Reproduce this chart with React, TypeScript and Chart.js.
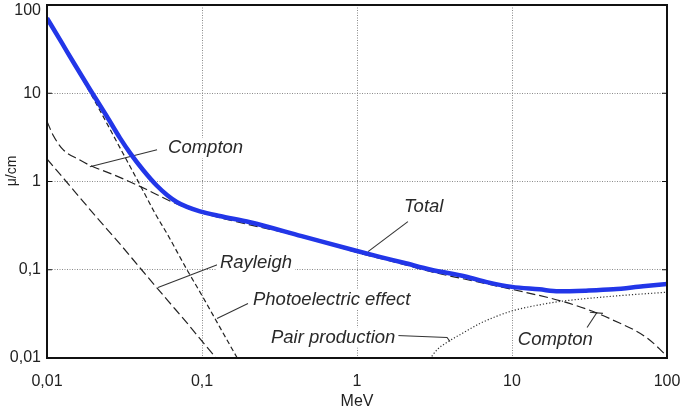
import React, { useEffect, useRef } from 'react';
import { Chart, registerables } from 'chart.js';

Chart.register(...registerables);

// ---- axis ticks and titles ----
const tickValues = [0.01, 0.1, 1, 10, 100];
const xTickLabels = ['0,01', '0,1', '1', '10', '100'];
const yTickLabels = ['0,01', '0,1', '1', '10', '100'];
const xTitle = 'MeV';
const yTitle = 'μ/cm';

// ---- series (energy in MeV, attenuation μ in 1/cm) ----
const totalEnergy = [0.01, 0.0125, 0.015, 0.0189, 0.0243, 0.0296, 0.0343, 0.0418, 0.051, 0.06, 0.0687, 0.08, 0.097, 0.13, 0.204, 0.44, 1, 1.4, 2, 3, 5, 7, 10, 15, 20, 30, 45, 70, 100];
const totalMu = [71, 36.9, 21.6, 11.1, 5.48, 3.1, 2.11, 1.34, 0.9, 0.694, 0.586, 0.515, 0.459, 0.406, 0.345, 0.24, 0.163, 0.14, 0.12, 0.1, 0.084, 0.072, 0.064, 0.06, 0.057, 0.058, 0.06, 0.065, 0.069];

const comptonEnergy = [0.01, 0.011, 0.0127, 0.0163, 0.019, 0.027, 0.044, 0.065, 0.1, 0.2, 0.5, 1, 2, 3, 5, 10, 21, 30, 44, 74, 100];
const comptonMu = [4.8, 3.3, 2.3, 1.75, 1.52, 1.19, 0.81, 0.58, 0.44, 0.325, 0.225, 0.157, 0.115, 0.095, 0.078, 0.06, 0.044, 0.036, 0.0273, 0.017, 0.0105];

const photoEnergy = [0.01, 0.015, 0.02, 0.03, 0.04, 0.05, 0.06, 0.08, 0.1, 0.13, 0.17, 0.2];
const photoMu = [70, 21, 8.6, 2.3, 0.9, 0.43, 0.25, 0.1, 0.051, 0.0225, 0.0098, 0.006];

const rayleighEnergy = [0.01, 0.015, 0.02, 0.03, 0.04, 0.06, 0.08, 0.1, 0.13];
const rayleighMu = [1.8, 0.78, 0.43, 0.19, 0.104, 0.045, 0.025, 0.0155, 0.009];

const pairEnergy = [2.95, 3.3, 3.8, 4.85, 6.2, 8, 10.2, 15, 21, 44, 100];
const pairMu = [0.0098, 0.0125, 0.015, 0.0193, 0.0246, 0.0298, 0.0345, 0.04, 0.044, 0.05, 0.0557];

// ---- curve annotations (anchored in data coordinates) ----
const labelTexts = ['Compton', 'Total', 'Rayleigh', 'Photoelectric effect', 'Pair production', 'Compton'];
const labelEnergy = [0.0604, 2.01, 0.1306, 0.2133, 0.2786, 10.9];
const labelMu = [2.39, 0.519, 0.1206, 0.046, 0.0171, 0.01623];

const leaderEnergy = [
  [0.0513, 0.0189],
  [2.13, 1.178],
  [0.1268, 0.052],
  [0.198, 0.125],
  [1.81, 3.81, 3.98],
  [30.5, 35.3],
  [31.8, 38.6],
];
const leaderMu = [
  [2.29, 1.47],
  [0.351, 0.1607],
  [0.1146, 0.063],
  [0.0415, 0.028],
  [0.018, 0.0171, 0.0154],
  [0.0222, 0.0328],
  [0.033, 0.032],
];

const toPoints = (xs: number[], ys: number[]) => xs.map((x, i) => ({ x, y: ys[i] }));

const FONT = '"Liberation Sans", Arial, Helvetica, sans-serif';

const decorPlugin = {
  id: 'decor',
  beforeDatasetsDraw(chart: any) {
    const { ctx, scales } = chart;
    const xs = scales.x;
    const ys = scales.y;
    ctx.save();
    // leader lines
    ctx.strokeStyle = '#333';
    ctx.lineWidth = 1.1;
    ctx.setLineDash([]);
    leaderEnergy.forEach((es, i) => {
      ctx.beginPath();
      es.forEach((e, j) => {
        const px = xs.getPixelForValue(e);
        const py = ys.getPixelForValue(leaderMu[i][j]);
        if (j === 0) ctx.moveTo(px, py);
        else ctx.lineTo(px, py);
      });
      ctx.stroke();
    });
    // labels with white backgrounds
    ctx.font = `italic 18.5px ${FONT}`;
    ctx.textBaseline = 'middle';
    ctx.textAlign = 'left';
    labelTexts.forEach((t, i) => {
      const px = xs.getPixelForValue(labelEnergy[i]);
      const py = ys.getPixelForValue(labelMu[i]);
      const w = ctx.measureText(t).width;
      ctx.fillStyle = '#ffffff';
      ctx.fillRect(px - 3, py - 10, w + 6, 20);
      ctx.fillStyle = '#2a2a2a';
      ctx.fillText(t, px, py);
    });
    ctx.restore();
  },
  afterDatasetsDraw(chart: any) {
    const { ctx, chartArea, scales } = chart;
    ctx.save();
    ctx.strokeStyle = '#111';
    ctx.lineWidth = 2;
    ctx.setLineDash([]);
    ctx.strokeRect(chartArea.left, chartArea.top, chartArea.right - chartArea.left, chartArea.bottom - chartArea.top);
    // short inner tick marks on the left and right frame at decades
    ctx.lineWidth = 1;
    tickValues.forEach((v) => {
      const py = scales.y.getPixelForValue(v);
      ctx.beginPath();
      ctx.moveTo(chartArea.left, py);
      ctx.lineTo(chartArea.left + 5, py);
      ctx.moveTo(chartArea.right, py);
      ctx.lineTo(chartArea.right - 5, py);
      ctx.stroke();
    });
    // y axis title
    ctx.translate(chartArea.left - 35, chartArea.top + 166);
    ctx.rotate(-Math.PI / 2);
    ctx.font = `14px ${FONT}`;
    ctx.fillStyle = '#222';
    ctx.textAlign = 'center';
    ctx.textBaseline = 'middle';
    ctx.fillText(yTitle, 0, 0);
    ctx.restore();
  },
};

export default function App() {
  const ref = useRef<HTMLCanvasElement | null>(null);

  useEffect(() => {
    if (!ref.current) return;
    const last = tickValues.length - 1;
    const gridColor = (c: any) =>
      c.tick && (c.tick.value === tickValues[0] || c.tick.value === tickValues[last])
        ? 'rgba(0,0,0,0)'
        : '#8a8a8a';
    const chart = new Chart(ref.current, {
      type: 'scatter',
      data: {
        datasets: [
          {
            label: 'Total',
            data: toPoints(totalEnergy, totalMu),
            borderColor: '#2236e8',
            borderWidth: 4.5,
            showLine: true,
            pointRadius: 0,
            cubicInterpolationMode: 'monotone',
            order: 0,
          },
          {
            label: 'Compton',
            data: toPoints(comptonEnergy, comptonMu),
            borderColor: '#222',
            borderWidth: 1.2,
            borderDash: [9, 4],
            showLine: true,
            pointRadius: 0,
            cubicInterpolationMode: 'monotone',
            order: 1,
          },
          {
            label: 'Photoelectric effect',
            data: toPoints(photoEnergy, photoMu),
            borderColor: '#222',
            borderWidth: 1.2,
            borderDash: [5, 3],
            showLine: true,
            pointRadius: 0,
            cubicInterpolationMode: 'monotone',
            order: 2,
          },
          {
            label: 'Rayleigh',
            data: toPoints(rayleighEnergy, rayleighMu),
            borderColor: '#222',
            borderWidth: 1.2,
            borderDash: [9, 4],
            showLine: true,
            pointRadius: 0,
            cubicInterpolationMode: 'monotone',
            order: 3,
          },
          {
            label: 'Pair production',
            data: toPoints(pairEnergy, pairMu),
            borderColor: '#333',
            borderWidth: 1.2,
            borderDash: [1.2, 2],
            showLine: true,
            pointRadius: 0,
            cubicInterpolationMode: 'monotone',
            order: 4,
          },
        ],
      },
      options: {
        responsive: false,
        animation: false,
        events: [],
        layout: { padding: { top: 5, right: 18, left: 0, bottom: 0 } },
        plugins: {
          legend: { display: false },
          tooltip: { enabled: false },
          title: { display: false },
        },
        scales: {
          x: {
            type: 'logarithmic',
            min: 0.01,
            max: 100,
            afterBuildTicks: (s: any) => {
              s.ticks = tickValues.map((v) => ({ value: v }));
            },
            afterFit: (s: any) => {
              s.height = 57;
              s.paddingLeft = 0;
              s.paddingRight = 0;
              s.paddingTop = 0;
              s.paddingBottom = 0;
            },
            ticks: {
              autoSkip: false,
              maxRotation: 0,
              padding: 14,
              color: '#222',
              font: { family: FONT, size: 16 },
              callback: (_v: any, i: number) => xTickLabels[i],
            },
            grid: { color: gridColor, lineWidth: 1, drawTicks: false },
            border: { display: false, dash: [1, 1.5] },
            title: {
              display: true,
              text: xTitle,
              color: '#222',
              font: { family: FONT, size: 16 },
              padding: { top: 0, bottom: 4 },
            },
          },
          y: {
            type: 'logarithmic',
            min: 0.01,
            max: 100,
            afterBuildTicks: (s: any) => {
              s.ticks = tickValues.map((v) => ({ value: v }));
            },
            afterFit: (s: any) => {
              s.width = 47;
              s.paddingLeft = 0;
              s.paddingRight = 0;
              s.paddingTop = 0;
              s.paddingBottom = 0;
            },
            ticks: {
              autoSkip: false,
              padding: 6,
              color: '#222',
              font: (c: any) =>
                c.index === last
                  ? { family: FONT, size: 16, lineHeight: 0.7 }
                  : { family: FONT, size: 16 },
              callback: (_v: any, i: number) => (i === last ? ['', yTickLabels[i]] : yTickLabels[i]),
            },
            grid: { color: gridColor, lineWidth: 1, drawTicks: false },
            border: { display: false, dash: [1, 1.5] },
          },
        },
      },
      plugins: [decorPlugin],
    } as any);
    return () => chart.destroy();
  }, []);

  return (
    <div style={{ position: 'fixed', left: 0, top: 0, width: 685, height: 415, background: '#fff' }}>
      <canvas ref={ref} width={685} height={415} style={{ width: 685, height: 415, display: 'block' }} />
    </div>
  );
}
